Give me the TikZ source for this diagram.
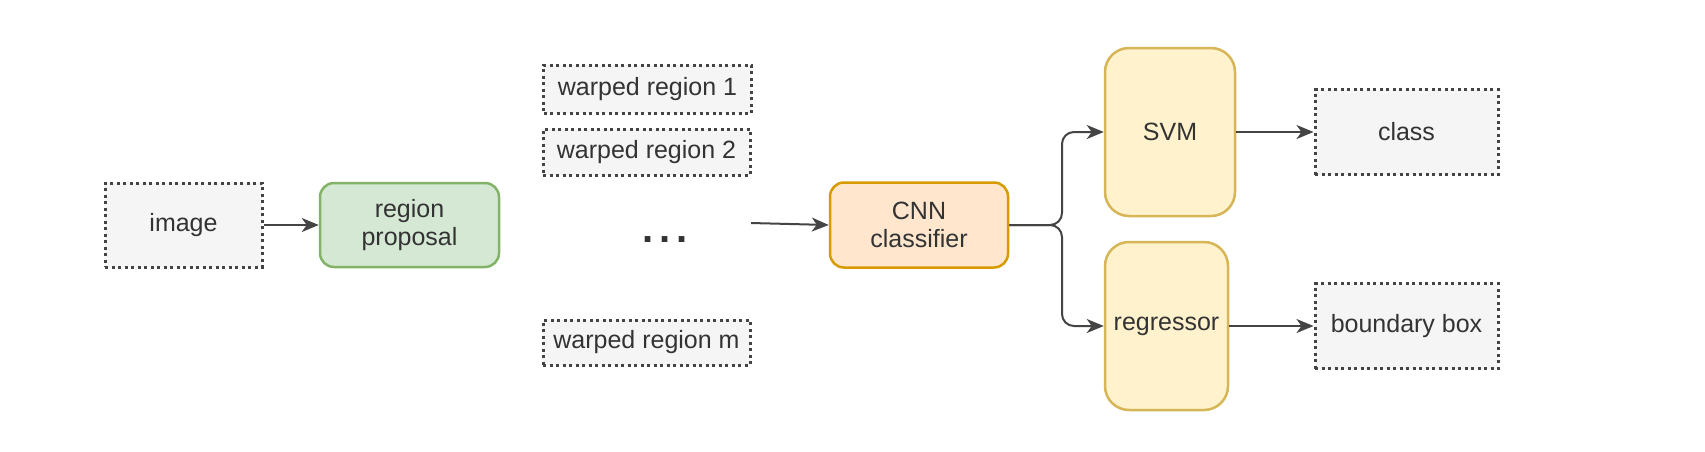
\documentclass[tikz,border=0pt]{standalone}
\usepackage{fontspec}
\setmainfont{Liberation Sans}
\usetikzlibrary{arrows.meta}
\definecolor{txt}{HTML}{333333}
\definecolor{dotbd}{HTML}{444444}
\definecolor{grayfill}{HTML}{F5F5F5}
\definecolor{greenfill}{HTML}{D5E8D4}
\definecolor{greenbd}{HTML}{82B366}
\definecolor{orangefill}{HTML}{FFE6CC}
\definecolor{orangebd}{HTML}{D79B00}
\definecolor{yellowfill}{HTML}{FFF2CC}
\definecolor{yellowbd}{HTML}{D6B656}
\definecolor{arrowc}{HTML}{444444}
\tikzset{
  every node/.style={text=txt, font=\fontsize{25}{28}\selectfont, align=center, inner sep=0pt},
  dotbox/.style={draw=dotbd, fill=grayfill, line width=3pt, dash pattern=on 3pt off 3.5pt, rectangle},
  greenbox/.style={draw=greenbd, fill=greenfill, line width=2.5pt, rounded corners=14pt},
  orangebox/.style={draw=orangebd, fill=orangefill, line width=2.5pt, rounded corners=14pt},
  yellowbox/.style={draw=yellowbd, fill=yellowfill, line width=2.5pt, rounded corners=24pt},
  arr/.style={draw=arrowc, line width=2pt, -{Stealth[length=17pt,width=14pt,inset=5pt]}}
}
\begin{document}
\begin{tikzpicture}[x=1pt,y=-1pt]
\useasboundingbox (0,0) rectangle (1705,451);
\fill[white] (0,0) rectangle (1705,451);
% nodes
\node[dotbox, minimum width=157pt, minimum height=84pt] (image) at (183.5,225) {image};
\node[greenbox, minimum width=179pt, minimum height=84pt] (rp) at (409.5,225) {region\\proposal};
\node[dotbox, minimum width=208pt, minimum height=48pt] (w1) at (647.5,89) {warped region 1};
\node[dotbox, minimum width=207pt, minimum height=46pt] (w2) at (646.5,152) {warped region 2};
\node[dotbox, minimum width=207pt, minimum height=45pt] (wm) at (646.5,342.5) {warped region m};
\node[anchor=base] (dots) at (665,242) {\fontsize{40}{40}\selectfont\textbf{.\hspace{6pt}.\hspace{6pt}.}};
\node[orangebox, minimum width=178pt, minimum height=85pt] (cnn) at (919,225) {CNN\\classifier};
\node[yellowbox, minimum width=130pt, minimum height=168pt] (svm) at (1170,132) {SVM};
\node[yellowbox, minimum width=123pt, minimum height=168pt] (reg) at (1166.5,326) {regressor};
\node[dotbox, minimum width=183pt, minimum height=85pt] (class) at (1406.5,132) {class};
\node[dotbox, minimum width=183pt, minimum height=85pt] (bbox) at (1406.5,326) {boundary box};
% connectors
\coordinate (dstart) at (751,223);
\coordinate (branch) at (1062,225);
\draw[arr] (image) -- (rp);
\draw[arr] (dstart) -- (cnn.west);
\draw[arr, rounded corners=12pt] (cnn.east) -- (branch) |- (svm.west);
\draw[arr, rounded corners=12pt] (cnn.east) -- (branch) |- (reg.west);
\draw[arr] (svm) -- (class);
\draw[arr] (reg) -- (bbox);
\end{tikzpicture}
\end{document}
